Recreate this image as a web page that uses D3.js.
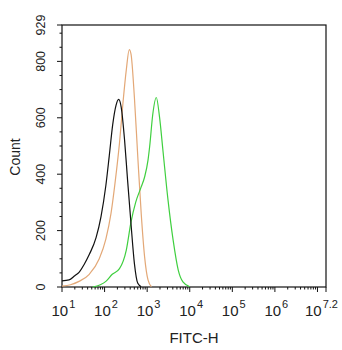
<!DOCTYPE html>
<html>
<head>
<meta charset="utf-8">
<script src="https://cdn.jsdelivr.net/npm/d3@7"></script>
<style>
body { margin: 0; background: #fff; }
text { font-family: "Liberation Sans", Arial, sans-serif; fill: #222; }
</style>
</head>
<body>
<svg id="chart" width="342" height="350"></svg>
<script>
// log10(FITC-H) and counts
var blackLog   = [1.0, 1.165, 1.30, 1.40, 1.52, 1.64, 1.80, 1.915, 2.03, 2.11, 2.19, 2.27, 2.33, 2.39, 2.47, 2.54, 2.62, 2.70, 2.78, 2.86];
var blackCount = [22, 25, 40, 52, 80, 115, 175, 249, 360, 465, 575, 645, 665, 638, 520, 379, 225, 84, 13, 1];

var orangeLog   = [1.0, 1.20, 1.40, 1.64, 1.875, 2.03, 2.15, 2.27, 2.35, 2.43, 2.51, 2.58, 2.62, 2.70, 2.78, 2.86, 2.94, 3.02, 3.10];
var orangeCount = [3, 8, 20, 45, 100, 170, 260, 400, 510, 650, 770, 842, 827, 673, 461, 261, 107, 25, 1];

var greenLog   = [1.72, 1.90, 2.03, 2.18, 2.35, 2.51, 2.62, 2.73, 2.86, 2.94, 3.02, 3.06, 3.13, 3.215, 3.29, 3.37, 3.49, 3.61, 3.73, 3.84, 4.0];
var greenCount = [0, 8, 20, 45, 65, 131, 230, 300, 355, 390, 450, 500, 610, 672, 603, 485, 308, 166, 60, 18, 1];

var xMajor = [1, 2, 3, 4, 5, 6, 7, 7.2];
var xLabelAt = [1, 2, 3, 4, 5, 6, 7.2];
var xLabels = ["1", "2", "3", "4", "5", "6", "7.2"];
var yMajor = [0, 200, 400, 600, 800, 929];

var svg = d3.select("#chart");
var mLeft = 62, mRight = 326, mTop = 25, mBottom = 287;

var x = d3.scaleLinear().domain([1, 7.2]).range([mLeft, mRight]);
var y = d3.scaleLinear().domain([0, 929]).range([mBottom, mTop]);

// minor ticks
var xMinor = [];
for (var d = 1; d < 7.2; d++) {
	for (var m = 2; m < 10; m++) {
		var v = d + Math.log10(m);
		if (v < 7.2) xMinor.push(v);
	}
}
var yMinor = [];
for (var v = 50; v < 929; v += 50) {
	if (v % 200 !== 0) yMinor.push(v);
}

var axisColor = "#111";

svg.append("g").selectAll("line").data(xMinor).enter().append("line")
	.attr("x1", function(d){ return x(d); }).attr("x2", function(d){ return x(d); })
	.attr("y1", mBottom).attr("y2", mBottom + 2.5)
	.attr("stroke", axisColor).attr("stroke-width", 1);
svg.append("g").selectAll("line").data(xMajor).enter().append("line")
	.attr("x1", function(d){ return x(d); }).attr("x2", function(d){ return x(d); })
	.attr("y1", mBottom).attr("y2", mBottom + 5)
	.attr("stroke", axisColor).attr("stroke-width", 1);

svg.append("g").selectAll("line").data(yMinor).enter().append("line")
	.attr("y1", function(d){ return y(d); }).attr("y2", function(d){ return y(d); })
	.attr("x1", mLeft).attr("x2", mLeft - 2.5)
	.attr("stroke", axisColor).attr("stroke-width", 1);
svg.append("g").selectAll("line").data(yMajor).enter().append("line")
	.attr("y1", function(d){ return y(d); }).attr("y2", function(d){ return y(d); })
	.attr("x1", mLeft).attr("x2", mLeft - 5)
	.attr("stroke", axisColor).attr("stroke-width", 1);

// frame
svg.append("rect")
	.attr("x", mLeft).attr("y", mTop)
	.attr("width", mRight - mLeft).attr("height", mBottom - mTop)
	.attr("fill", "none").attr("stroke", axisColor).attr("stroke-width", 1.2);

// curves
var line = d3.line()
	.x(function(d){ return x(d[0]); })
	.y(function(d){ return y(d[1]); })
	.curve(d3.curveMonotoneX);

function series(logs, counts, color){
	var pts = logs.map(function(l, i){ return [l, counts[i]]; });
	svg.append("path").datum(pts)
		.attr("d", line)
		.attr("fill", "none")
		.attr("stroke", color)
		.attr("stroke-width", 1.2);
}
series(orangeLog, orangeCount, "#e3a877");
series(greenLog, greenCount, "#3fcf3f");
series(blackLog, blackCount, "#111");

// x tick labels: "10" with the exponent raised
var xl = svg.append("g").selectAll("text").data(xLabelAt).enter().append("text")
	.attr("x", function(d, i){ return x(d) + (i === xLabelAt.length - 1 ? -21 : -10.5); })
	.attr("y", 316)
	.style("font-size", "15px");
xl.append("tspan").text("10");
xl.append("tspan").attr("dx", 1).attr("dy", -8).style("font-size", "11px")
	.text(function(d, i){ return xLabels[i]; });

// y tick labels
svg.append("g").selectAll("text").data(yMajor).enter().append("text")
	.attr("transform", function(d){ return "translate(45," + y(d) + ") rotate(-90)"; })
	.attr("text-anchor", "middle")
	.style("font-size", "12.5px")
	.text(function(d){ return d; });

svg.append("text")
	.attr("x", (mLeft + mRight) / 2).attr("y", 343)
	.attr("text-anchor", "middle")
	.style("font-size", "15px")
	.text("FITC-H");

svg.append("text")
	.attr("transform", "translate(20,157) rotate(-90)")
	.attr("text-anchor", "middle")
	.style("font-size", "14px")
	.text("Count");
</script>
</body>
</html>
